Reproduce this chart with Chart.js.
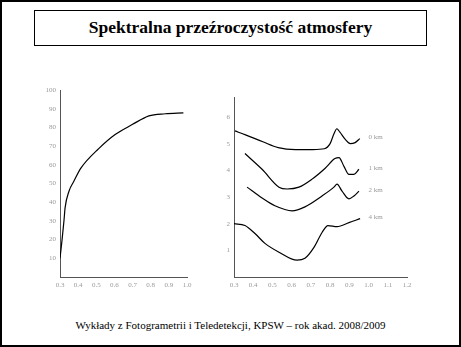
<!DOCTYPE html>
<html>
<head>
<meta charset="utf-8">
<script src="https://cdn.jsdelivr.net/npm/chart.js@4.4.1/dist/chart.umd.min.js"></script>
<style>
  html, body { margin: 0; padding: 0; background: #fff; }
  #slide { position: relative; width: 461px; height: 347px; box-sizing: border-box; border: 2px solid #000; overflow: hidden; }
  #title { position: absolute; left: 32px; top: 8px; width: 393px; height: 36px; box-sizing: border-box; border: 1px solid #000;
           font: bold 17.5px "Liberation Serif", serif; text-align: center; line-height: 32px; color: #000; }
  #footer { position: absolute; left: 0; width: 457px; top: 317px; text-align: center; font: 11px "Liberation Serif", serif; color: #000; }
  #leftBox { position: absolute; left: 34px; top: 78px; width: 160px; height: 215px; }
  #rightBox { position: absolute; left: 203px; top: 83px; width: 215px; height: 210px; }
  canvas { display: block; }
</style>
</head>
<body>
<div id="slide">
  <div id="title">Spektralna przeźroczystość atmosfery</div>
  <div id="leftBox"><canvas id="leftChart" width="160" height="215"></canvas></div>
  <div id="rightBox"><canvas id="rightChart" width="215" height="210"></canvas></div>
  <div id="footer">Wykłady z Fotogrametrii i Teledetekcji, KPSW – rok akad. 2008/2009</div>
</div>
<script>
  // left chart - transmittance vs wavelength
  const leftWave  = [0.30, 0.311, 0.322, 0.328, 0.35, 0.377, 0.415, 0.515, 0.604, 0.698, 0.79, 0.88, 0.98];
  const leftTrans = [10, 19.6, 30.2, 37, 46, 51.3, 58.2, 68.8, 76.2, 81.5, 86.2, 87.3, 87.8];

  // right chart - four curves (stacked)
  const wave1 = [0.305, 0.36, 0.45, 0.53, 0.62, 0.71, 0.77, 0.80, 0.82, 0.835, 0.85, 0.88, 0.905, 0.93, 0.955];
  const val1  = [5.48, 5.33, 5.07, 4.85, 4.78, 4.78, 4.81, 5.0, 5.37, 5.56, 5.44, 5.15, 5.0, 5.04, 5.19];
  const wave2 = [0.357, 0.446, 0.534, 0.576, 0.638, 0.706, 0.773, 0.825, 0.846, 0.872, 0.898, 0.924, 0.95];
  const val2  = [4.63, 4.04, 3.37, 3.30, 3.37, 3.67, 4.07, 4.44, 4.48, 4.15, 3.85, 3.85, 4.04];
  const wave3 = [0.368, 0.446, 0.513, 0.602, 0.669, 0.758, 0.82, 0.836, 0.862, 0.898, 0.924, 0.95];
  const val3  = [3.37, 2.96, 2.67, 2.48, 2.63, 3.04, 3.37, 3.48, 3.22, 2.93, 3.04, 3.22];
  const wave4 = [0.30, 0.357, 0.409, 0.461, 0.534, 0.628, 0.669, 0.716, 0.758, 0.789, 0.836, 0.898, 0.956];
  const val4  = [2.0, 1.93, 1.63, 1.26, 0.93, 0.63, 0.70, 1.11, 1.67, 1.93, 1.89, 2.04, 2.19];
  const curveLabels = ['0 km', '1 km', '2 km', '4 km'];

  const tickFont = { family: 'Liberation Serif', size: 7 };
  const tickColor = '#9a9a9a';
  const axisColor = '#555';

  function pts(xs, ys) {
    return xs.map((x, i) => ({ x: x, y: ys[i] }));
  }

  function lineSet(xs, ys) {
    return {
      data: pts(xs, ys),
      borderColor: '#000',
      borderWidth: 1.2,
      pointRadius: 0,
      fill: false,
      cubicInterpolationMode: 'monotone'
    };
  }

  // left
  new Chart(document.getElementById('leftChart'), {
    type: 'line',
    data: { datasets: [lineSet(leftWave, leftTrans)] },
    options: {
      responsive: false,
      animation: false,
      layout: { padding: { top: 10, right: 9, left: 0, bottom: 0 } },
      plugins: { legend: { display: false }, tooltip: { enabled: false } },
      scales: {
        x: {
          type: 'linear', min: 0.3, max: 1.0,
          grid: { display: false, drawTicks: false },
          border: { color: axisColor, dash: [1, 2] },
          ticks: { stepSize: 0.1, font: tickFont, color: tickColor, padding: 4,
                   callback: v => v.toFixed(1) },
          afterFit: s => { s.height = 18; }
        },
        y: {
          min: 0, max: 100,
          grid: { display: false, drawTicks: false },
          border: { color: axisColor, dash: [1, 2] },
          ticks: { stepSize: 10, font: tickFont, color: tickColor, padding: 4,
                   callback: v => v === 0 ? '' : v },
          afterFit: s => { s.width = 24; }
        }
      }
    }
  });

  // curve names at the right end of each line
  const endLabels = {
    id: 'endLabels',
    afterDatasetsDraw(chart) {
      const ctx = chart.ctx;
      const xs = chart.scales.x, ys = chart.scales.y;
      ctx.save();
      ctx.font = '7px "Liberation Serif"';
      ctx.fillStyle = tickColor;
      ctx.textBaseline = 'middle';
      chart.data.datasets.forEach((ds, i) => {
        const last = ds.data[ds.data.length - 1];
        ctx.fillText(curveLabels[i], xs.getPixelForValue(1.0), ys.getPixelForValue(last.y) - 1);
      });
      ctx.restore();
    }
  };

  // right
  new Chart(document.getElementById('rightChart'), {
    type: 'line',
    data: { datasets: [lineSet(wave1, val1), lineSet(wave2, val2), lineSet(wave3, val3), lineSet(wave4, val4)] },
    options: {
      responsive: false,
      animation: false,
      layout: { padding: { top: 12, right: 13, left: 0, bottom: 0 } },
      plugins: { legend: { display: false }, tooltip: { enabled: false } },
      scales: {
        x: {
          type: 'linear', min: 0.3, max: 1.2,
          grid: { display: false, drawTicks: false },
          border: { color: axisColor, dash: [1, 2] },
          ticks: { stepSize: 0.1, font: tickFont, color: tickColor, padding: 4,
                   callback: v => v.toFixed(1) },
          afterFit: s => { s.height = 18; }
        },
        y: {
          min: 0, max: 6.75,
          grid: { display: false, drawTicks: false },
          border: { color: axisColor, dash: [1, 2] },
          ticks: { stepSize: 1, font: tickFont, color: tickColor, padding: 4,
                   callback: v => (v === 0 || v % 1 !== 0 ? '' : v) },
          afterFit: s => { s.width = 29; }
        }
      }
    },
    plugins: [endLabels]
  });
</script>
</body>
</html>
